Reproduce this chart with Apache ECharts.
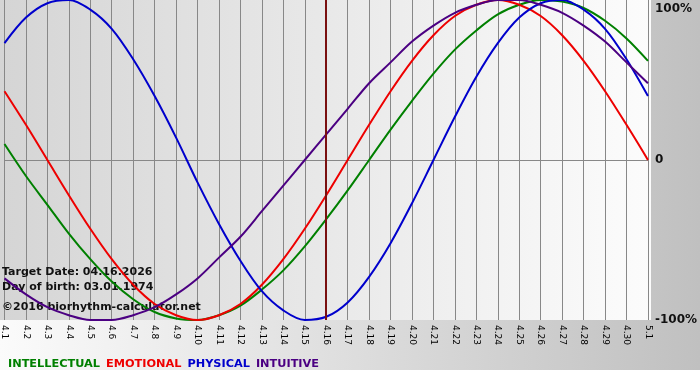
<!DOCTYPE html>
<html><head><meta charset="utf-8">
<script src="https://cdn.jsdelivr.net/npm/echarts@6/dist/echarts.min.js"></script>
<style>html,body{margin:0;padding:0;background:#fff}#c{width:700px;height:380px}</style>
</head><body><div id="c"></div>
<script>
// Categories (days, month.day)
const days = ['4.1','4.2','4.3','4.4','4.5','4.6','4.7','4.8','4.9','4.10','4.11','4.12','4.13','4.14','4.15','4.16','4.17','4.18','4.19','4.20','4.21','4.22','4.23','4.24','4.25','4.26','4.27','4.28','4.29','4.30','5.1'];
// Series values in percent
const intellectual = [10,-10,-28,-46,-62,-76,-87,-95,-99,-100,-97,-91,-81,-69,-54,-37,-19,0,19,37,54,69,81,91,97,100,99,95,87,76,62];
const emotional    = [43,22,0,-22,-43,-62,-78,-90,-97,-100,-97,-90,-78,-62,-43,-22,0,22,43,62,78,90,97,100,97,90,78,62,43,22,0];
const physical     = [73,89,98,100,94,82,63,40,14,-14,-40,-63,-82,-94,-100,-98,-89,-73,-52,-27,0,27,52,73,89,98,100,94,82,63,40];
const intuitive    = [-74,-84,-92,-97,-100,-100,-97,-92,-84,-74,-61,-48,-32,-16,0,16,32,48,61,74,84,92,97,100,100,97,92,84,74,61,48];
// Tick labels for the right axis
const yTickValues = [-100, 0, 100];
const yTickLabels = ['-100%', '0', '100%'];
const targetDay = '4.16';
const infoLines = ['Target Date: 04.16.2026', 'Day of birth: 03.01.1974', '©2016 biorhythm-calculator.net'];
const seriesNames = ['INTELLECTUAL', 'EMOTIONAL', 'PHYSICAL', 'INTUITIVE'];
const seriesColors = ['#008000', '#ee0000', '#0000cc', '#4b0082'];
const seriesData = [intellectual, emotional, physical, intuitive];

const chart = echarts.init(document.getElementById('c'), null, {renderer: 'canvas'});
const G = echarts.graphic;
const option = {
  animation: false,
  backgroundColor: '#ffffff',
  grid: {left: 0, top: 0, width: 651, height: 320, containLabel: false},
  graphic: [
    {type: 'rect', z: -20, silent: true, shape: {x: 0, y: 0, width: 700, height: 370},
     style: {fill: new G.LinearGradient(0, 0, 1, 0, [{offset: 0, color: '#fbfbfb'}, {offset: 1, color: '#c0c0c0'}])}},
    {type: 'rect', z: -19, silent: true, shape: {x: 0, y: 0, width: 651, height: 320},
     style: {fill: new G.LinearGradient(0, 0, 1, 0, [{offset: 0, color: '#d5d5d5'}, {offset: 1, color: '#fcfcfc'}])}},
    ...infoLines.map((t, i) => ({
      type: 'text', z: 1, silent: true, left: 2, top: [267, 282, 302][i],
      style: {text: t, fill: '#111111', font: 'bold 11px "DejaVu Sans"'}
    }))
  ],
  legend: {
    left: -2, top: 354, icon: 'none', itemWidth: 0, itemHeight: 10, itemGap: 1,
    selectedMode: false,
    textStyle: {fontFamily: 'DejaVu Sans', fontWeight: 'bold', fontSize: 11.3},
    data: seriesNames.map((n, i) => ({name: n, textStyle: {color: seriesColors[i]}}))
  },
  xAxis: {
    type: 'category', data: days, boundaryGap: false,
    axisLine: {lineStyle: {color: '#888888', width: 1}},
    axisTick: {show: true, length: 3, lineStyle: {color: '#888888'}},
    splitLine: {show: true, lineStyle: {color: '#888888', width: 1}},
    axisLabel: {interval: 0, rotate: -90, margin: 5, color: '#000', fontFamily: 'DejaVu Sans', fontSize: 9}
  },
  yAxis: {
    type: 'value', position: 'right', min: -100, max: 100, interval: 100,
    axisLine: {show: false}, axisTick: {show: false},
    splitLine: {show: true, lineStyle: {color: ['rgba(0,0,0,0)', '#888888', 'rgba(0,0,0,0)'], width: 1}},
    axisLabel: {
      margin: 7, color: '#111', fontFamily: 'DejaVu Sans', fontWeight: 'bold', fontSize: 12,
      formatter: v => {
        const s = yTickLabels[yTickValues.indexOf(v)];
        return v === 100 ? '{t|' + s + '}' : s;
      },
      rich: {t: {padding: [18, 0, 0, 0], fontFamily: 'DejaVu Sans', fontWeight: 'bold', fontSize: 12, color: '#111'}}
    }
  },
  series: seriesNames.map((n, i) => ({
    name: n, type: 'line', data: seriesData[i], smooth: 0.33, symbol: 'none', clip: false,
    lineStyle: {color: seriesColors[i], width: 2}, itemStyle: {color: seriesColors[i]},
    markLine: i === 0 ? {
      silent: true, symbol: 'none', label: {show: false},
      lineStyle: {color: '#7a1010', width: 2, type: 'solid'},
      data: [{xAxis: targetDay}]
    } : undefined
  }))
};
chart.setOption(option);
</script></body></html>
